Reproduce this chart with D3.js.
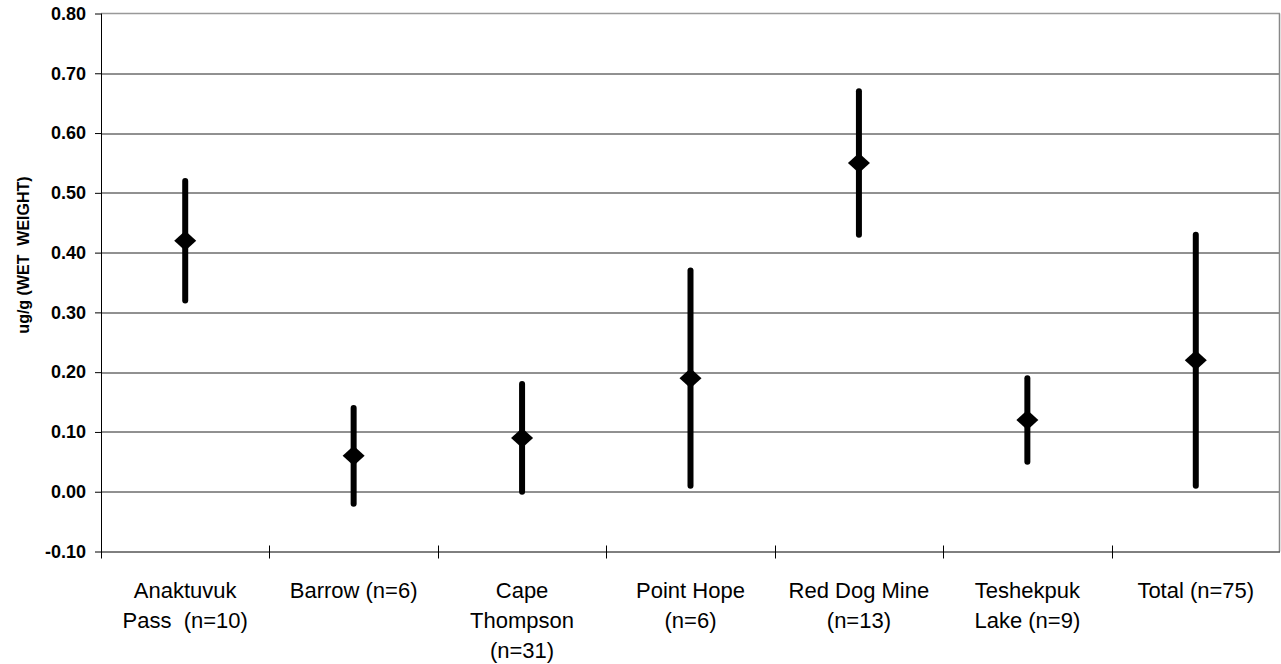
<!DOCTYPE html>
<html>
<head>
<meta charset="utf-8">
<script src="https://cdn.jsdelivr.net/npm/d3@7"></script>
<style>
  body { margin: 0; background: #fff; }
  text { font-family: Arial, "Liberation Sans", sans-serif; white-space: pre; }
</style>
</head>
<body>
<div id="chart"></div>
<script>
// sites and their label lines
const sites = ["Anaktuvuk Pass", "Barrow", "Cape Thompson", "Point Hope", "Red Dog Mine", "Teshekpuk Lake", "Total"];
const siteLabels = [
  ["Anaktuvuk", "Pass  (n=10)"],
  ["Barrow (n=6)"],
  ["Cape", "Thompson", "(n=31)"],
  ["Point Hope", "(n=6)"],
  ["Red Dog Mine", "(n=13)"],
  ["Teshekpuk", "Lake (n=9)"],
  ["Total (n=75)"]
];
// mean and range (ug/g wet weight)
const means = [0.42, 0.06, 0.09, 0.19, 0.55, 0.12, 0.22];
const lows  = [0.32, -0.02, 0.00, 0.01, 0.43, 0.05, 0.01];
const highs = [0.52, 0.14, 0.18, 0.37, 0.67, 0.19, 0.43];
const yTicks = [-0.1, 0, 0.1, 0.2, 0.3, 0.4, 0.5, 0.6, 0.7, 0.8];

const width = 1281, height = 664;
const margin = {top: 13.5, right: 1, bottom: 112.5, left: 101};
const w = width - margin.left - margin.right;
const h = height - margin.top - margin.bottom;

const svg = d3.select("#chart").append("svg")
    .attr("width", width)
    .attr("height", height);

const g = svg.append("g")
    .attr("transform", "translate(" + margin.left + "," + margin.top + ")");

const x = d3.scaleBand()
    .domain(sites)
    .range([0, w])
    .padding(0);

const y = d3.scaleLinear()
    .domain([-0.1, 0.8])
    .range([h, 0]);

// gridlines
g.selectAll(".grid")
  .data(yTicks.filter(d => d > -0.1 && d < 0.8))
  .enter()
  .append("line")
    .attr("class", "grid")
    .attr("x1", 0)
    .attr("x2", w)
    .attr("y1", d => Math.round(y(d)) + 0.5)
    .attr("y2", d => Math.round(y(d)) + 0.5)
    .attr("stroke", "#222")
    .attr("stroke-width", 1);

// top and right frame (gray)
g.append("line")
    .attr("x1", 0).attr("x2", w)
    .attr("y1", y(0.8)).attr("y2", y(0.8))
    .attr("stroke", "#999").attr("stroke-width", 1.5);
g.append("line")
    .attr("x1", w - 0.5).attr("x2", w - 0.5)
    .attr("y1", y(0.8)).attr("y2", h)
    .attr("stroke", "#888").attr("stroke-width", 1.5);

// y axis
const yAxis = d3.axisLeft(y)
    .tickValues(yTicks)
    .tickSize(6)
    .tickPadding(9)
    .tickFormat(d3.format(".2f"));

const ya = g.append("g").call(yAxis);
ya.select(".domain").attr("stroke", "#000").attr("d", "M0.5," + y(0.8) + "V" + (h + 7));
ya.selectAll(".tick line").attr("stroke", "#000");
ya.selectAll(".tick text")
    .attr("fill", "#000")
    .style("font-size", "18px")
    .style("font-weight", "bold")
    .text(d => d < 0 ? "-" + d3.format(".2f")(-d) : d3.format(".2f")(d));

// x axis baseline and boundary ticks
g.append("line")
    .attr("x1", 0).attr("x2", w)
    .attr("y1", h + 0.5).attr("y2", h + 0.5)
    .attr("stroke", "#000");
g.selectAll(".xtick")
  .data(sites.slice(1))
  .enter()
  .append("line")
    .attr("x1", d => Math.round(x(d)) + 0.5)
    .attr("x2", d => Math.round(x(d)) + 0.5)
    .attr("y1", h - 6)
    .attr("y2", h + 7)
    .attr("stroke", "#000");

// category labels
const labels = g.selectAll(".cat")
  .data(sites)
  .enter()
  .append("text")
    .attr("class", "cat")
    .attr("text-anchor", "middle")
    .attr("fill", "#000")
    .style("font-size", "22px");
labels.each(function(d, i) {
  const t = d3.select(this);
  siteLabels[i].forEach(function(line, j) {
    t.append("tspan")
      .attr("x", x(d) + x.bandwidth() / 2)
      .attr("y", h + 46 + j * 30)
      .text(line);
  });
});

// range bars
g.selectAll(".range")
  .data(sites)
  .enter()
  .append("line")
    .attr("class", "range")
    .attr("x1", d => x(d) + x.bandwidth() / 2)
    .attr("x2", d => x(d) + x.bandwidth() / 2)
    .attr("y1", (d, i) => y(lows[i]))
    .attr("y2", (d, i) => y(highs[i]))
    .attr("stroke", "#000")
    .attr("stroke-width", 6)
    .attr("stroke-linecap", "round");

// mean diamonds
g.selectAll(".mean")
  .data(sites)
  .enter()
  .append("path")
    .attr("class", "mean")
    .attr("transform", (d, i) => "translate(" + (x(d) + x.bandwidth() / 2) + "," + y(means[i]) + ")")
    .attr("d", "M0,-10L11,0L0,10L-11,0Z")
    .attr("fill", "#000");

// y axis title
svg.append("text")
    .attr("transform", "translate(29,255) rotate(-90)")
    .attr("text-anchor", "middle")
    .attr("fill", "#000")
    .style("font-size", "16px")
    .style("font-weight", "bold")
    .text("ug/g (WET  WEIGHT)");
</script>
</body>
</html>
